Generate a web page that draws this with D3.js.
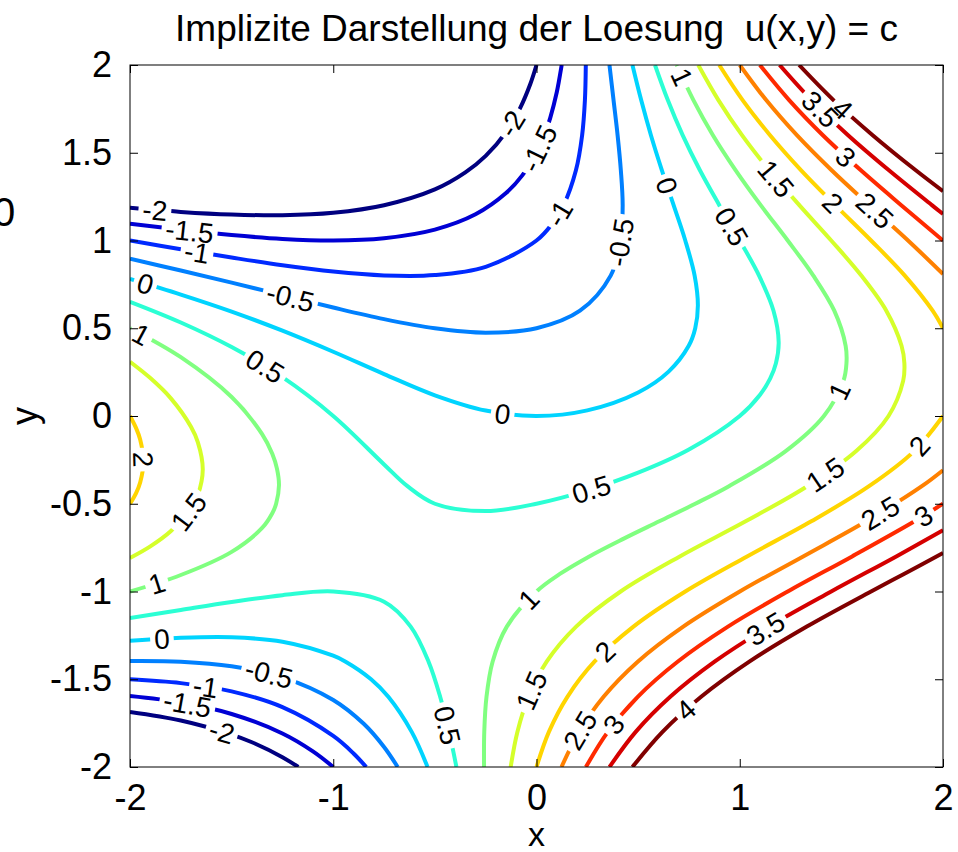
<!DOCTYPE html>
<html>
<head>
<meta charset="utf-8">
<script src="https://cdn.jsdelivr.net/npm/d3@7"></script>
<style>
  body { margin: 0; background: #fff; overflow: hidden; }
  svg { display: block; }
  svg text { font-family: "Liberation Sans", Arial, Helvetica, sans-serif; }
</style>
</head>
<body>
<div id="chart"></div>
<script>
// contour levels c of u(x,y) = c
const levels = [-2, -1.5, -1, -0.5, 0, 0.5, 1, 1.5, 2, 2.5, 3, 3.5, 4];
const xTicks = [-2, -1, 0, 1, 2];
const yTicks = [-2, -1.5, -1, -0.5, 0, 0.5, 1, 1.5, 2];
const titleText = "Implizite Darstellung der Loesung  u(x,y) = c";

// contour lines, [x, y] points, ordered along each line
const cNeg2Upper = [[-2, 1.186], [-1.75, 1.163], [-1.5, 1.148], [-1.25, 1.144], [-1, 1.158], [-0.75, 1.201], [-0.5, 1.291], [-0.35, 1.388], [-0.25, 1.482], [-0.15, 1.618], [-0.08, 1.756], [-0.03, 1.893], [0, 2]];
const cNeg2Lower = [[-2, -1.686], [-1.75, -1.735], [-1.5, -1.815], [-1.4, -1.859], [-1.25, -1.944], [-1.172, -2]];
const cNeg15Upper = [[-2, 1.096], [-1.75, 1.061], [-1.5, 1.031], [-1.25, 1.009], [-1, 1.0], [-0.75, 1.013], [-0.5, 1.062], [-0.3, 1.149], [-0.15, 1.27], [-0.07, 1.371], [0, 1.5], [0.039, 1.6], [0.068, 1.7], [0.1, 1.846], [0.109, 1.9], [0.124, 2]];
const cNeg15Lower = [[-2, -1.596], [-1.75, -1.633], [-1.5, -1.698], [-1.25, -1.809], [-1.1, -1.911], [-1, -2]];
const cNeg1Upper = [[-2, 1.0], [-1.75, 0.95], [-1.5, 0.903], [-1.25, 0.859], [-1, 0.823], [-0.75, 0.801], [-0.5, 0.803], [-0.25, 0.85], [0, 1.0], [0.08, 1.1], [0.133, 1.2], [0.194, 1.4], [0.2245, 1.6], [0.2382, 1.8], [0.2426, 2]];
const cNeg1Lower = [[-2, -1.5], [-1.75, -1.522], [-1.5, -1.569], [-1.25, -1.659], [-1, -1.823], [-0.9, -1.923], [-0.838, -2]];
const cNeg05Upper = [[-2, 0.896], [-1.75, 0.829], [-1.5, 0.76], [-1.25, 0.689], [-1, 0.618], [-0.75, 0.552], [-0.5, 0.5], [-0.25, 0.475], [0, 0.5], [0.214, 0.6], [0.365, 0.8], [0.414, 1.0], [0.424, 1.2], [0.415, 1.4], [0.399, 1.6], [0.379, 1.8], [0.359, 2]];
const cNeg05Lower = [[-2, -1.396], [-1.75, -1.4], [-1.5, -1.426], [-1.25, -1.489], [-1, -1.618], [-0.85, -1.754], [-0.75, -1.886], [-0.683, -2]];
const c0Upper = [[-2, 0.781], [-1.75, 0.692], [-1.5, 0.595], [-1.25, 0.486], [-1, 0.366], [-0.75, 0.239], [-0.5, 0.118], [-0.25, 0.031], [0, 0], [0.25, 0.032], [0.5, 0.134], [0.65, 0.253], [0.749, 0.4], [0.781, 0.5], [0.794, 0.63], [0.778, 0.8], [0.732, 1.0], [0.675, 1.2], [0.617, 1.4], [0.563, 1.6], [0.515, 1.8], [0.472, 2]];
const c0Lower = [[-2, -1.281], [-1.75, -1.264], [-1.5, -1.261], [-1.25, -1.286], [-1, -1.366], [-0.939, -1.4], [-0.814, -1.5], [-0.729, -1.6], [-0.614, -1.8], [-0.536, -2]];
const c05Upper = [[-2, 0.651], [-1.75, 0.533], [-1.5, 0.393], [-1.25, 0.221], [-1, 0], [-0.75, -0.276], [-0.635, -0.4], [-0.5, -0.5], [-0.25, -0.542], [0, -0.5], [0.25, -0.424], [0.5, -0.323], [0.75, -0.191], [1.0, 0], [1.1, 0.121], [1.15, 0.214], [1.178, 0.3], [1.1915, 0.42], [1.166, 0.6], [1.095, 0.8], [1.0, 1.0], [0.9, 1.2], [0.804, 1.4], [0.719, 1.6], [0.646, 1.8], [0.583, 2]];
const c05Lower = [[-2, -1.151], [-1.75, -1.105], [-1.5, -1.06], [-1.25, -1.021], [-1, -1.0], [-0.75, -1.058], [-0.619, -1.2], [-0.531, -1.4], [-0.474, -1.6], [-0.43, -1.8], [-0.394, -2]];
const c1Left = [[-2, 0.5], [-1.75, 0.335], [-1.5, 0.108], [-1.35, -0.103], [-1.3, -0.215], [-1.277, -0.3], [-1.267, -0.395], [-1.281, -0.5], [-1.3, -0.554], [-1.35, -0.638], [-1.5, -0.774], [-1.75, -0.906], [-2, -1.0]];
const c1Right = [[0.69, 2], [0.772, 1.8], [0.868, 1.6], [0.98, 1.4], [1.104, 1.2], [1.236, 1.0], [1.362, 0.8], [1.465, 0.6], [1.521, 0.4], [1.525, 0.3], [1.51, 0.2], [1.414, 0], [1.226, -0.2], [0.947, -0.4], [0.781, -0.5], [0.604, -0.6], [0.427, -0.7], [0.26, -0.8], [0.115, -0.9], [0, -1.0], [-0.146, -1.2], [-0.216, -1.4], [-0.246, -1.6], [-0.257, -1.8], [-0.258, -2]];
const c15Left = [[-2, 0.309], [-1.9, 0.216], [-1.8, 0.102], [-1.7, -0.061], [-1.666, -0.15], [-1.642, -0.305], [-1.666, -0.45], [-1.7, -0.527], [-1.8, -0.657], [-1.9, -0.743], [-2, -0.809]];
const c15Right = [[0.796, 2], [0.895, 1.8], [1.011, 1.6], [1.145, 1.4], [1.294, 1.2], [1.45, 1.0], [1.598, 0.8], [1.721, 0.6], [1.796, 0.4], [1.81, 0.3], [1.804, 0.2], [1.732, 0], [1.573, -0.2], [1.332, -0.4], [1.029, -0.6], [0.705, -0.8], [0.414, -1.0], [0.195, -1.2], [0.05, -1.4], [-0.039, -1.6], [-0.094, -1.8], [-0.127, -2]];
const c2Left = [[-2, 0], [-1.97, -0.069], [-1.95, -0.134], [-1.934, -0.259], [-1.95, -0.379], [-1.97, -0.439], [-2, -0.5]];
const c2RightUpper = [[0.899, 2], [1.014, 1.8], [1.149, 1.6], [1.302, 1.4], [1.471, 1.2], [1.646, 1.0], [1.812, 0.8], [1.949, 0.6], [2, 0.5]];
const c2RightLower = [[2, 0], [1.858, -0.2], [1.636, -0.4], [1.352, -0.6], [1.036, -0.8], [0.732, -1.0], [0.477, -1.2], [0.285, -1.4], [0.152, -1.6], [0.061, -1.8], [0, -2]];
const c25Upper = [[1.0, 2], [1.13, 1.8], [1.281, 1.6], [1.452, 1.4], [1.638, 1.2], [1.828, 1.0], [2, 0.809]];
const c25Lower = [[2, -0.309], [1.896, -0.4], [1.622, -0.6], [1.312, -0.8], [1.0, -1.0], [0.722, -1.2], [0.498, -1.4], [0.33, -1.6], [0.209, -1.8], [0.123, -2]];
const c3Upper = [[1.099, 2], [1.243, 1.8], [1.409, 1.6], [1.596, 1.4], [1.796, 1.2], [2, 1.0]];
const c3Lower = [[2, -0.5], [1.86, -0.6], [1.553, -0.8], [1.236, -1.0], [0.942, -1.2], [0.694, -1.4], [0.498, -1.6], [0.351, -1.8], [0.243, -2]];
const c35Upper = [[1.196, 2], [1.353, 1.8], [1.533, 1.6], [1.734, 1.4], [1.947, 1.2], [2, 1.151]];
const c35Lower = [[2, -0.651], [1.77, -0.8], [1.45, -1.0], [1.143, -1.2], [0.876, -1.4], [0.658, -1.6], [0.488, -1.8], [0.359, -2]];
const c4Upper = [[1.292, 2], [1.461, 1.8], [1.654, 1.6], [1.866, 1.4], [2, 1.281]];
const c4Lower = [[2, -0.781], [1.808, -0.9], [1.646, -1.0], [1.33, -1.2], [1.047, -1.4], [0.81, -1.6], [0.62, -1.8], [0.472, -2]];

// where the inline level labels sit: [level, x, y]
const labelSpots = [
    [-2, -1.877, 1.17], [-1.5, -1.705, 1.05], [-1, -1.67, 0.93], [0, -1.926, 0.75], [-0.5, -1.213, 0.67],
    [-2, -0.096, 1.65], [-1.5, 0.017, 1.52], [-1, 0.116, 1.15], [-0.5, 0.421, 0.99], [0, 0.608, 1.3],
    [1, 0.681, 1.915], [0.5, 0.918, 1.05], [1.5, 1.159, 1.33], [2, 1.434, 1.19], [2.5, 1.631, 1.13],
    [3, 1.508, 1.46], [3.5, 1.37, 1.72], [4, 1.483, 1.72],
    [0.5, -1.351, 0.25], [1, -1.951, 0.45], [2, -1.935, -0.25], [1.5, -1.705, -0.55],
    [0, -0.17, 0.0], [0.5, 0.273, -0.43], [1, 1.508, 0.13], [1.5, 1.429, -0.35], [2, 1.897, -0.18],
    [2.5, 1.705, -0.58], [3, 1.921, -0.6],
    [1, -1.867, -0.96], [0, -1.843, -1.27], [-0.5, -1.321, -1.5], [-1, -1.631, -1.57], [-1.5, -1.72, -1.67],
    [-2, -1.557, -1.83], [1, -0.032, -1.05], [0.5, -0.475, -1.77], [1.5, -0.032, -1.56], [2, 0.347, -1.35],
    [2.5, 0.229, -1.8], [3, 0.386, -1.76], [4, 0.745, -1.69], [3.5, 1.139, -1.24]
];

const contourLines = [
    { level: -2, pts: cNeg2Upper }, { level: -2, pts: cNeg2Lower },
    { level: -1.5, pts: cNeg15Upper }, { level: -1.5, pts: cNeg15Lower },
    { level: -1, pts: cNeg1Upper }, { level: -1, pts: cNeg1Lower },
    { level: -0.5, pts: cNeg05Upper }, { level: -0.5, pts: cNeg05Lower },
    { level: 0, pts: c0Upper }, { level: 0, pts: c0Lower },
    { level: 0.5, pts: c05Upper }, { level: 0.5, pts: c05Lower },
    { level: 1, pts: c1Left }, { level: 1, pts: c1Right },
    { level: 1.5, pts: c15Left }, { level: 1.5, pts: c15Right },
    { level: 2, pts: c2Left }, { level: 2, pts: c2RightUpper }, { level: 2, pts: c2RightLower },
    { level: 2.5, pts: c25Upper }, { level: 2.5, pts: c25Lower },
    { level: 3, pts: c3Upper }, { level: 3, pts: c3Lower },
    { level: 3.5, pts: c35Upper }, { level: 3.5, pts: c35Lower },
    { level: 4, pts: c4Upper }, { level: 4, pts: c4Lower }
];

// jet colormap over the level range
function jet(t) {
    const c = v => Math.round(255 * Math.max(0, Math.min(1, v)));
    return d3.rgb(c(1.5 - Math.abs(4 * t - 3)), c(1.5 - Math.abs(4 * t - 2)), c(1.5 - Math.abs(4 * t - 1))).formatHex();
}
const colorT = d3.scaleLinear().domain(d3.extent(levels)).range([0, 1]);

const W = 958, H = 852;
const plot = { left: 130, right: 943, top: 65, bottom: 767 };

const x = d3.scaleLinear().domain([-2, 2]).range([plot.left, plot.right]);
const y = d3.scaleLinear().domain([-2, 2]).range([plot.bottom, plot.top]);

const svg = d3.select("#chart").append("svg")
    .attr("width", W)
    .attr("height", H);

const defs = svg.append("defs");
defs.append("clipPath").attr("id", "plotClip")
    .append("rect")
    .attr("x", plot.left).attr("y", plot.top)
    .attr("width", plot.right - plot.left).attr("height", plot.bottom - plot.top);

// Contour lines
const line = d3.line()
    .x(d => x(d[0]))
    .y(d => y(d[1]))
    .curve(d3.curveCatmullRom.alpha(0.5));

const lineG = svg.append("g").attr("clip-path", "url(#plotClip)");
const paths = lineG.selectAll("path.contour")
    .data(contourLines)
    .enter().append("path")
    .attr("class", "contour")
    .attr("d", d => line(d.pts))
    .attr("fill", "none")
    .attr("stroke", d => jet(colorT(d.level)))
    .attr("stroke-width", 4);

// Inline labels: snap each spot onto its line and follow the line direction
const labelFont = 28;
const labelG = svg.append("g");
const gaps = contourLines.map(() => []);

labelSpots.forEach(([lev, lx, ly]) => {
    const tx = x(lx), ty = y(ly);
    let best = null;
    paths.each(function (d, i) {
        if (d.level !== lev) return;
        const len = this.getTotalLength();
        for (let s = 0; s <= len; s += 1) {
            const p = this.getPointAtLength(s);
            const dist = (p.x - tx) ** 2 + (p.y - ty) ** 2;
            if (!best || dist < best.dist) best = { dist, s, node: this, i, len };
        }
    });
    if (!best) return;
    const p = best.node.getPointAtLength(best.s);
    const p1 = best.node.getPointAtLength(Math.max(0, best.s - 6));
    const p2 = best.node.getPointAtLength(Math.min(best.len, best.s + 6));
    let ang = Math.atan2(p2.y - p1.y, p2.x - p1.x) * 180 / Math.PI;
    if (ang > 90) ang -= 180;
    if (ang <= -90) ang += 180;

    const g = labelG.append("g")
        .attr("transform", `translate(${p.x},${p.y}) rotate(${ang})`);
    const t = g.append("text")
        .attr("text-anchor", "middle")
        .attr("dy", "0.36em")
        .style("font-size", labelFont + "px")
        .style("fill", "#000")
        .text(String(lev));
    const w = t.node().getComputedTextLength();
    gaps[best.i].push({ x: p.x, y: p.y, ang, w: w + 8, h: labelFont * 0.9 });
});

// cut a gap in each line under its own labels
paths.each(function (d, i) {
    if (!gaps[i].length) return;
    const m = defs.append("mask").attr("id", "gap" + i)
        .attr("maskUnits", "userSpaceOnUse")
        .attr("x", 0).attr("y", 0).attr("width", W).attr("height", H);
    m.append("rect").attr("x", 0).attr("y", 0).attr("width", W).attr("height", H).attr("fill", "#fff");
    gaps[i].forEach(gp => {
        m.append("rect")
            .attr("x", -gp.w / 2).attr("y", -gp.h / 2)
            .attr("width", gp.w).attr("height", gp.h)
            .attr("transform", `translate(${gp.x},${gp.y}) rotate(${gp.ang})`)
            .attr("fill", "#000");
    });
    d3.select(this).attr("mask", `url(#gap${i})`);
});

// Axes, ticks pointing inward on all four sides
const tickFont = "36px";
const fmt = d => String(d);

const xAxisB = svg.append("g")
    .attr("transform", `translate(0,${plot.bottom})`)
    .call(d3.axisBottom(x).tickValues(xTicks).tickSize(-8).tickPadding(17).tickFormat(fmt));
const yAxisL = svg.append("g")
    .attr("transform", `translate(${plot.left},0)`)
    .call(d3.axisLeft(y).tickValues(yTicks).tickSize(-8).tickPadding(18).tickFormat(fmt));
const xAxisT = svg.append("g")
    .attr("transform", `translate(0,${plot.top})`)
    .call(d3.axisTop(x).tickValues(xTicks).tickSize(-8).tickFormat(""));
const yAxisR = svg.append("g")
    .attr("transform", `translate(${plot.right},0)`)
    .call(d3.axisRight(y).tickValues(yTicks).tickSize(-8).tickFormat(""));

[xAxisB, yAxisL, xAxisT, yAxisR].forEach(a => {
    a.select(".domain").remove();
    a.selectAll("line").attr("stroke", "#000").attr("stroke-width", 1);
    a.selectAll("text")
        .style("font-size", tickFont)
        .style("font-family", "'Liberation Sans', Arial, sans-serif")
        .style("fill", "#000");
});

// Box
svg.append("rect")
    .attr("x", plot.left).attr("y", plot.top)
    .attr("width", plot.right - plot.left).attr("height", plot.bottom - plot.top)
    .attr("fill", "none")
    .attr("stroke", "#000")
    .attr("stroke-width", 1);

// Title and axis labels
svg.append("text")
    .attr("x", (plot.left + plot.right) / 2)
    .attr("y", 41)
    .attr("text-anchor", "middle")
    .style("font-size", "37px")
    .style("white-space", "pre")
    .text(titleText);

svg.append("text")
    .attr("x", (plot.left + plot.right) / 2)
    .attr("y", 846)
    .attr("text-anchor", "middle")
    .style("font-size", "34px")
    .text("x");

svg.append("text")
    .attr("transform", `translate(37,${(plot.top + plot.bottom) / 2}) rotate(-90)`)
    .attr("text-anchor", "middle")
    .style("font-size", "36px")
    .text("y");

// clipped glyph at the left edge of the figure
svg.append("text")
    .attr("x", -7)
    .attr("y", 226)
    .style("font-size", "40px")
    .text("0");
</script>
</body>
</html>
